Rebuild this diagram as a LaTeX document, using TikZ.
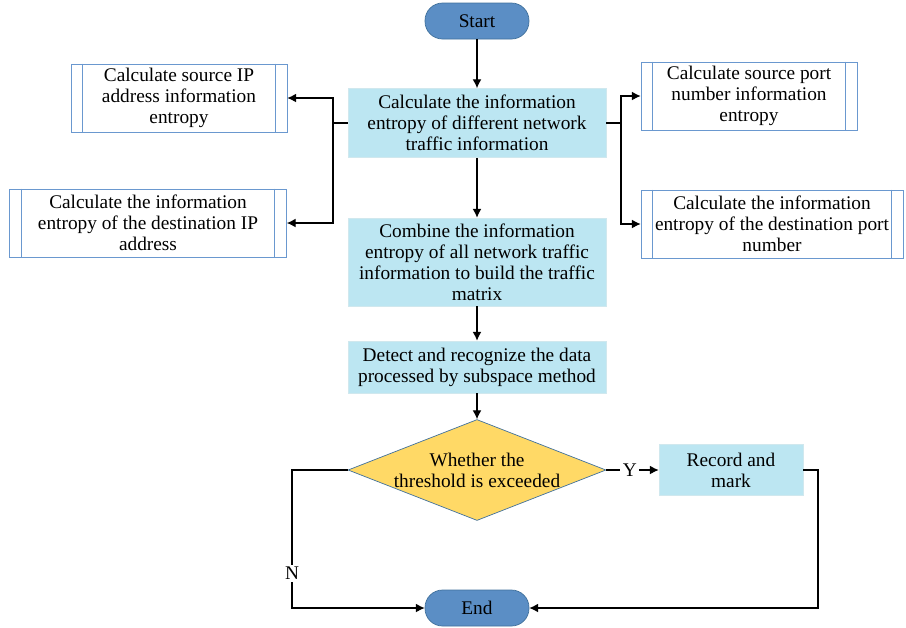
\documentclass[tikz,border=0pt]{standalone}
\usepackage{fontspec}
\setmainfont{Liberation Serif}
\usetikzlibrary{shapes.geometric,arrows.meta}
\definecolor{termblue}{HTML}{5B8EC5}
\definecolor{edgeblue}{HTML}{41719C}
\definecolor{stepcyan}{HTML}{BCE6F2}
\definecolor{stepedge}{HTML}{D0E8EE}
\definecolor{askyellow}{HTML}{FFD966}
\definecolor{subedge}{HTML}{6A98CF}
\tikzset{
  term/.style={draw=edgeblue,fill=termblue,rounded corners=0.35cm,minimum width=2.08cm,minimum height=0.72cm,font=\fontsize{11}{13}\selectfont},
  stepbox/.style={draw=stepedge,fill=stepcyan,align=center,font=\fontsize{11}{12}\selectfont,inner sep=0pt},
  subbox/.style={draw=subedge,fill=white,align=center,font=\fontsize{11}{12}\selectfont,inner sep=0pt,minimum height=1.36cm},
  ask/.style={diamond,draw=edgeblue,fill=askyellow,aspect=2.55,inner sep=0pt,minimum width=5.16cm,minimum height=2.02cm,align=center,font=\fontsize{11}{12}\selectfont},
  link/.style={draw=black,line width=0.6pt,-{Latex[length=5pt,width=5pt]}},
  plain/.style={draw=black,line width=0.6pt},
  tag/.style={fill=white,inner sep=1.5pt,font=\fontsize{11}{12}\selectfont}
}
\begin{document}
\begin{tikzpicture}[x=0.02cm,y=-0.02cm]
    \useasboundingbox (0,0) rectangle (906,627);
    % terminals
    \node[term] (start) at (477,21){Start};
    \node[term] (end) at (477,608){End};
    % main steps
    \node[stepbox,minimum width=5.16cm,minimum height=1.38cm] (calc) at (477,123){Calculate the information\\entropy of different network\\traffic information};
    \node[stepbox,minimum width=5.16cm,minimum height=1.76cm] (comb) at (477,262){Combine the information\\entropy of all network traffic\\information to build the traffic\\matrix};
    \node[stepbox,minimum width=5.16cm,minimum height=1.04cm] (detect) at (477,367){Detect and recognize the data\\processed by subspace method};
    \node[ask] (check) at (477,470){Whether the\\threshold is exceeded};
    \node[stepbox,minimum width=2.88cm,minimum height=1.02cm] (mark) at (731,470){Record and\\mark};
    % sub steps
    \node[subbox,minimum width=4.32cm] (srcip) at (179,98){Calculate source IP\\address information\\entropy};
    \node[subbox,minimum width=5.54cm] (dstip) at (148,223){Calculate the information\\entropy of the destination IP\\address};
    \node[subbox,minimum width=4.32cm] (srcport) at (749,96){Calculate source port\\number information\\entropy};
    \node[subbox,minimum width=5.24cm] (dstport) at (772,224){Calculate the information\\entropy of the destination port\\number};
    \foreach \b in {srcip,dstip,srcport,dstport}{
      \draw[subedge] ([xshift=0.24cm]\b.north west) -- ([xshift=0.24cm]\b.south west);
      \draw[subedge] ([xshift=-0.24cm]\b.north east) -- ([xshift=-0.24cm]\b.south east);
    }
    % branch points
    \coordinate (lsplit) at (333,123);
    \coordinate (rsplit) at (621,123);
    \coordinate (nturn) at (292,470);
    \coordinate (yturn) at (818,470);
    % connectors
    \draw[link] (start) -- (calc);
    \draw[link] (calc) -- (comb);
    \draw[link] (comb) -- (detect);
    \draw[link] (detect) -- (check);
    \draw[plain] (calc.west) -- (lsplit);
    \draw[link] (lsplit) |- (srcip.east);
    \draw[link] (lsplit) |- (dstip.east);
    \draw[plain] (calc.east) -- (rsplit);
    \draw[link] (rsplit) |- (srcport.west);
    \draw[link] (rsplit) |- (dstport.west);
    \draw[link] (check.east) -- node[tag,pos=0.45]{Y} (mark.west);
    \draw[link] (check.west) -- (nturn) -- node[tag,pos=0.75]{N} (nturn |- end) -- (end.west);
    \draw[link] (mark.east) -- (yturn) -- (yturn |- end) -- (end.east);
  \end{tikzpicture}
\end{document}
